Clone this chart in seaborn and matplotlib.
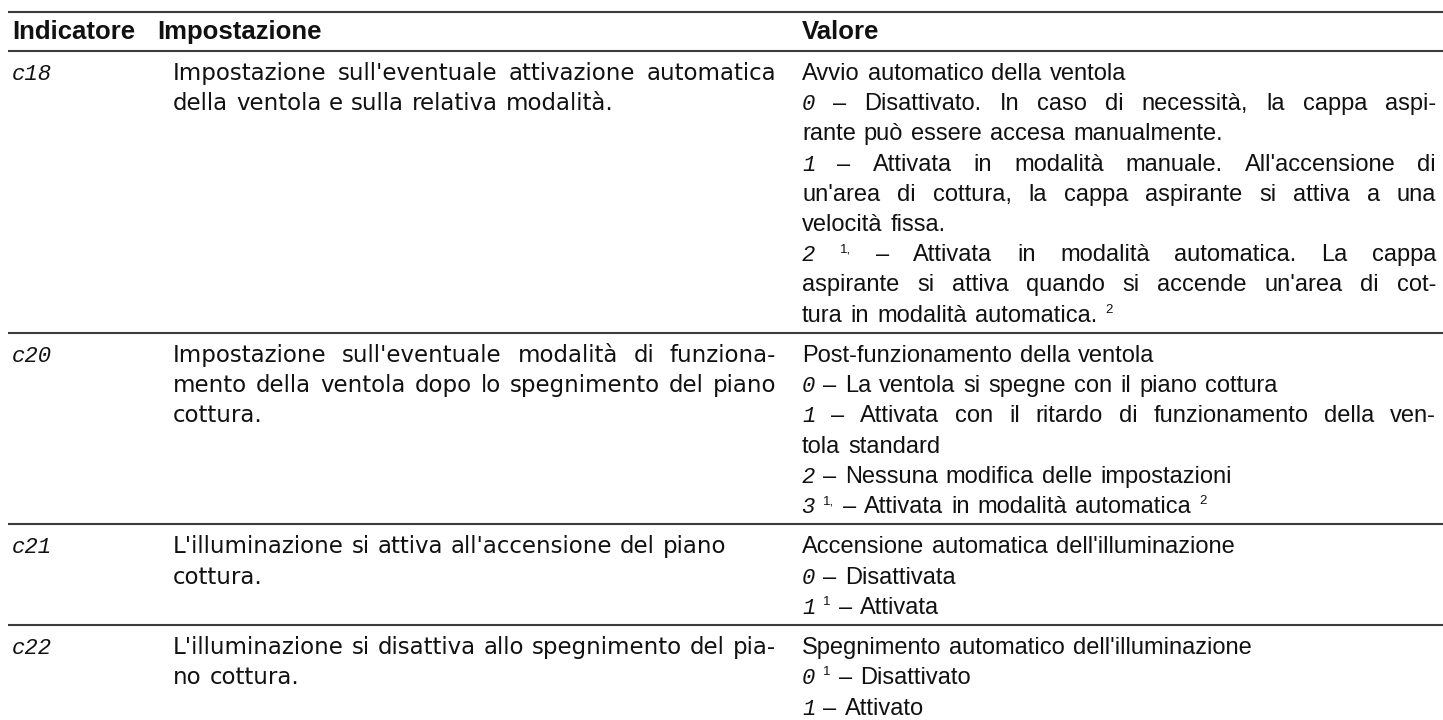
import matplotlib
matplotlib.use("Agg")
import matplotlib.pyplot as plt
import seaborn as sns

# table content
headers = ["Indicatore", "Impostazione", "Valore"]
indicators = ["c18", "c20", "c21", "c22"]
settings = [
    ["Impostazione sull'eventuale attivazione automatica",
     "della ventola e sulla relativa modalità."],
    ["Impostazione sull'eventuale modalità di funziona-",
     "mento della ventola dopo lo spegnimento del piano",
     "cottura."],
    ["L'illuminazione si attiva all'accensione del piano",
     "cottura."],
    ["L'illuminazione si disattiva allo spegnimento del pia-",
     "no cottura."],
]
# [d] = display digit, ^x = superscript
values = [
    ["Avvio automatico della ventola",
     "[0] – Disattivato. In caso di necessità, la cappa aspi-",
     "rante può essere accesa manualmente.",
     "[1] – Attivata in modalità manuale. All'accensione di",
     "un'area di cottura, la cappa aspirante si attiva a una",
     "velocità fissa.",
     "[2] ^1, – Attivata in modalità automatica. La cappa",
     "aspirante si attiva quando si accende un'area di cot-",
     "tura in modalità automatica. ^2"],
    ["Post-funzionamento della ventola",
     "[0] – La ventola si spegne con il piano cottura",
     "[1] – Attivata con il ritardo di funzionamento della ven-",
     "tola standard",
     "[2] – Nessuna modifica delle impostazioni",
     "[3] ^1, – Attivata in modalità automatica ^2"],
    ["Accensione automatica dell'illuminazione",
     "[0] – Disattivata",
     "[1] ^1 – Attivata"],
    ["Spegnimento automatico dell'illuminazione",
     "[0] ^1 – Disattivato",
     "[1] – Attivato"],
]

W, H = 1443, 720
head_x = [12, 157, 802]
col_x = [12, 173, 802]
col_right = [None, 776, 1436]
fill_min = [None, 0.93, 0.75]   # lines fuller than this are set justified
rule_x0 = 8
top_rule = 12
header_base = 39
header_rule = 51
first_off = 29
step = 30.2
bottom_pad = 11.4
ink = "#111111"
rule_color = "#3c3c3c"

sns.set_theme(style="white")
plt.rcParams["font.family"] = ["Liberation Sans", "DejaVu Sans"]

fig = plt.figure(figsize=(W / 100, H / 100), dpi=100)
ax = fig.add_axes([0, 0, 1, 1])
ax.set_xlim(0, W)
ax.set_ylim(H, 0)
ax.axis("off")
renderer = fig.canvas.get_renderer()

head_size = 18.5
set_font = dict(family=["DejaVu Sans"], fontsize=16.5)
val_font = dict(family=["Liberation Sans", "DejaVu Sans"], fontsize=17)
seg_kw = dict(family="Liberation Mono", style="italic", fontsize=16, color=ink)
sup_size = 9.5
sup_rise = 9


def rule(y):
    ax.plot([rule_x0, W], [y, y], color=rule_color, lw=1.5, solid_capstyle="butt")


def put(x, y, tok, font):
    if tok.startswith("[") and tok.endswith("]"):
        return ax.text(x, y, tok[1:-1], va="baseline", ha="left", **seg_kw)
    if tok.startswith("^"):
        return ax.text(x, y - sup_rise, tok[1:], va="baseline", ha="left",
                       fontsize=sup_size, color=ink)
    return ax.text(x, y, tok, va="baseline", ha="left", color=ink, **font)


def draw_line(x0, y, line, font, right=None, fill=1.0):
    arts = [put(x0, y, t, font) for t in line.split(" ")]
    widths = [a.get_window_extent(renderer).width for a in arts]
    gap = 0.34 * font["fontsize"] * 100 / 72
    n = len(arts)
    if right is not None and n > 1:
        natural = sum(widths) + gap * (n - 1)
        if natural >= fill * (right - x0):
            gap = (right - x0 - sum(widths)) / (n - 1)
    x = x0
    for a, w in zip(arts, widths):
        a.set_x(x)
        x += w + gap


def wraps(lines, i, is_value):
    # a line that runs on into the next one
    if i == len(lines) - 1:
        return False
    if is_value and (i == 0 or lines[i + 1].startswith("[")):
        return False
    return True


# header
rule(top_rule)
for hx, h in zip(head_x, headers):
    ax.text(hx, header_base, h, va="baseline", ha="left", fontsize=head_size,
            fontweight="bold", color=ink)
rule(header_rule)

y0 = header_rule
for ind, sett, vals in zip(indicators, settings, values):
    base = y0 + first_off
    ax.text(col_x[0], base, ind, va="baseline", ha="left", **seg_kw)
    for i, s in enumerate(sett):
        r = col_right[1] if wraps(sett, i, False) else None
        draw_line(col_x[1], base + i * step, s, set_font, r, fill_min[1])
    for i, v in enumerate(vals):
        r = col_right[2] if wraps(vals, i, True) else None
        draw_line(col_x[2], base + i * step, v, val_font, r, fill_min[2])
    n = max(len(sett), len(vals))
    y0 = base + (n - 1) * step + bottom_pad
    if ind != indicators[-1]:
        rule(y0)

fig.savefig("out.png", dpi=100)
